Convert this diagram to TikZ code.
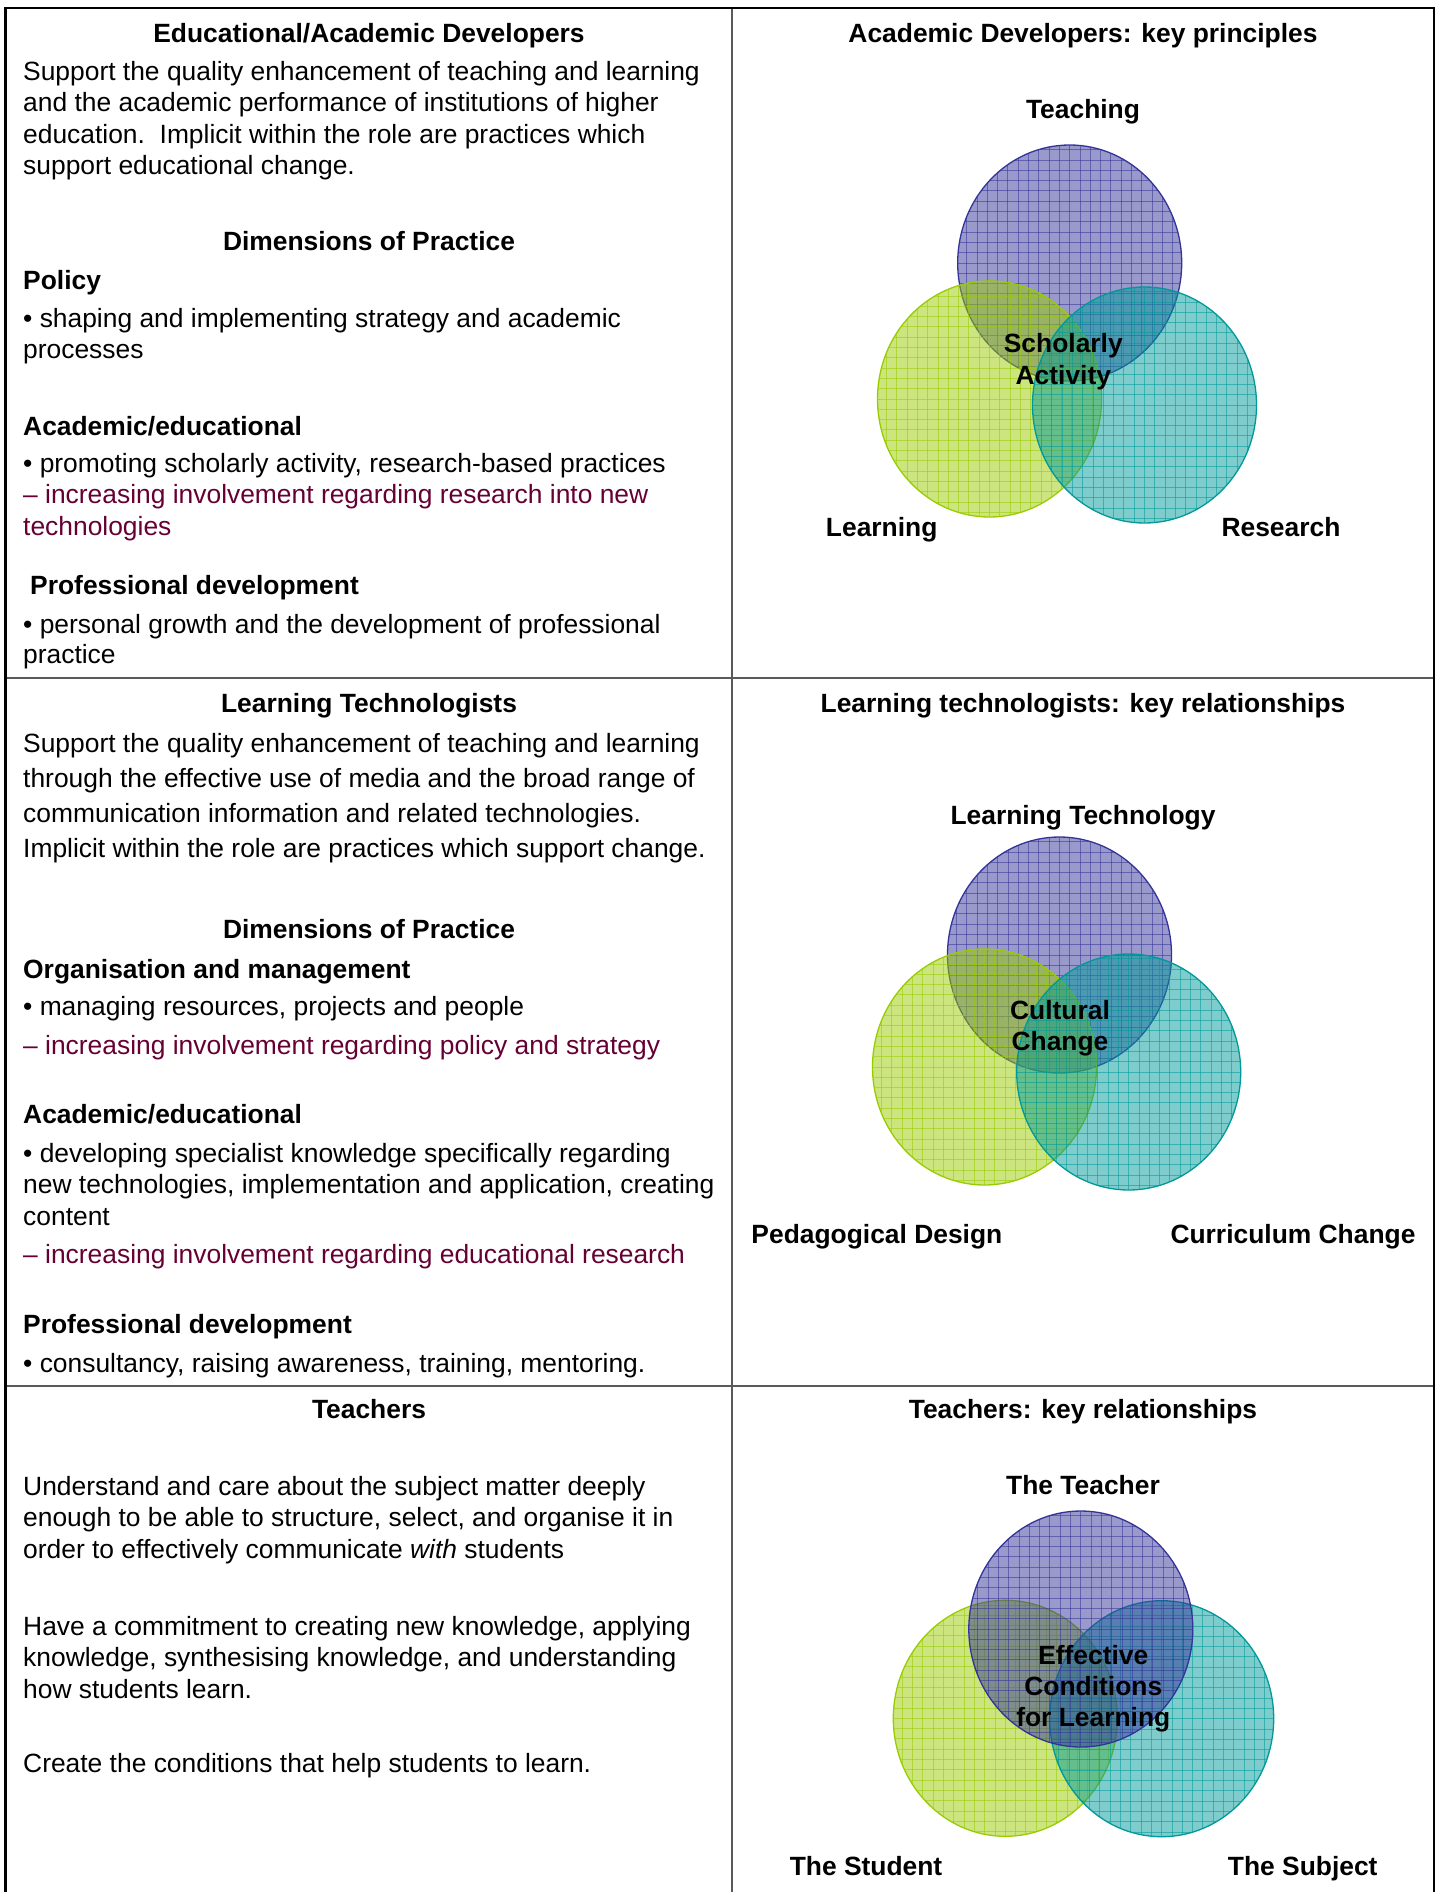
\documentclass[tikz,border=0pt]{standalone}
\usepackage{fontspec}
\setmainfont{Liberation Sans}
\usetikzlibrary{shapes.geometric}

\definecolor{maroonT}{RGB}{102,0,51}
\definecolor{purpleV}{RGB}{51,51,153}
\definecolor{greenV}{RGB}{153,204,0}
\definecolor{tealV}{RGB}{0,153,153}
\definecolor{ruleV}{RGB}{90,90,90}

\newcommand{\txtfont}{\fontsize{26.4}{31}\selectfont}
\newcommand{\hdfont}{\fontsize{26.4}{31}\selectfont\bfseries}

\tikzset{
  tx/.style={font=\txtfont, anchor=west, inner sep=0pt, text height=18.9pt, text depth=0pt},
  bx/.style={tx, font=\hdfont},
  mx/.style={tx, text=maroonT},
  hd/.style={bx, anchor=center},
  outer/.style={line width=2.2pt, black},
  inner/.style={line width=1.6pt, ruleV},
  venn/.style={ellipse, minimum width=224pt, minimum height=236pt, inner sep=0pt,
    draw=#1, line width=1.3pt, fill=#1, fill opacity=.5,
    path picture={
      \foreach \k in {-12,...,12}{
        \draw[#1, line width=1pt, draw opacity=.55]
          ([xshift=\k*10.3pt]path picture bounding box.north) --
          ([xshift=\k*10.3pt]path picture bounding box.south);
        \draw[#1, line width=1pt, draw opacity=.55]
          ([yshift=\k*10.3pt]path picture bounding box.west) --
          ([yshift=\k*10.3pt]path picture bounding box.east);
      }
    }},
}

\begin{document}
\begin{tikzpicture}[x=1pt, y=-1pt]
\useasboundingbox (0,0) rectangle (1439,1892);

% table frame
\coordinate (tl) at (5.5,8);
\coordinate (tr) at (1434,8);
\coordinate (bl) at (5.5,1892);
\coordinate (br) at (1434,1892);
\coordinate (mt) at (732,8);
\coordinate (mb) at (732,1892);
\coordinate (r1l) at (5.5,678);
\coordinate (r1r) at (1434,678);
\coordinate (r2l) at (5.5,1386);
\coordinate (r2r) at (1434,1386);
\draw[inner] (mt) -- (mb);
\draw[inner] (r1l) -- (r1r);
\draw[inner] (r2l) -- (r2r);
\draw[outer] (bl) -- (tl) -- (tr) -- (br);

% ---- row 1, left
\node[hd] (h1) at (369,32.6) {Educational/Academic Developers};
\node[tx] (a1) at (23,71.2) {Support the quality enhancement of teaching and learning};
\node[tx] (a2) at (23,102.5) {and the academic performance of institutions of higher};
\node[tx] (a3) at (23,133.9) {education.\ \ Implicit within the role are practices which};
\node[tx] (a4) at (23,165.2) {support educational change.};
\node[hd] (d1) at (369,241.2) {Dimensions of Practice};
\node[bx] (p1) at (23,279.8) {Policy};
\node[tx] (p2) at (23,318.4) {• shaping and implementing strategy and academic};
\node[tx] (p3) at (23,348.6) {processes};
\node[bx] (e1) at (23,425.8) {Academic/educational};
\node[tx] (e2) at (23,463.2) {• promoting scholarly activity, research-based practices};
\node[mx] (e3) at (23,494.5) {– increasing involvement regarding research into new};
\node[mx] (e4) at (23,525.9) {technologies};
\node[bx] (f1) at (30,585) {Professional development};
\node[tx] (f2) at (23,623.6) {• personal growth and the development of professional};
\node[tx] (f3) at (23,653.8) {practice};

% ---- row 1, right
\node[hd] (h2) at (1083,32.6) {Academic Developers: key principles};
\node[venn=purpleV] (v1a) at (1069.7,263) {};
\node[venn=greenV] (v1b) at (989.5,399) {};
\node[venn=tealV] (v1c) at (1144.5,405) {};
\node[hd] (l1a) at (1083,108.6) {Teaching};
\node[hd] (l1b) at (881.7,527.1) {Learning};
\node[hd] (l1c) at (1281,527.1) {Research};
\node[hd] (c1a) at (1063.3,343.3) {Scholarly};
\node[hd] (c1b) at (1063.3,375) {Activity};

% ---- row 2, left
\node[hd] (h3) at (369,703.2) {Learning Technologists};
\node[tx] (b1) at (23,743) {Support the quality enhancement of teaching and learning};
\node[tx] (b2) at (23,778) {through the effective use of media and the broad range of};
\node[tx] (b3) at (23,813) {communication information and related technologies.};
\node[tx] (b4) at (23,848) {Implicit within the role are practices which support change.};
\node[hd] (d2) at (369,928.8) {Dimensions of Practice};
\node[bx] (o1) at (23,968.6) {Organisation and management};
\node[tx] (o2) at (23,1006) {• managing resources, projects and people};
\node[mx] (o3) at (23,1044.6) {– increasing involvement regarding policy and strategy};
\node[bx] (g1) at (23,1114.5) {Academic/educational};
\node[tx] (g2) at (23,1153.1) {• developing specialist knowledge specifically regarding};
\node[tx] (g3) at (23,1184.5) {new technologies, implementation and application, creating};
\node[tx] (g4) at (23,1215.9) {content};
\node[mx] (g5) at (23,1254.4) {– increasing involvement regarding educational research};
\node[bx] (k1) at (23,1324.4) {Professional development};
\node[tx] (k2) at (23,1363) {• consultancy, raising awareness, training, mentoring.};

% ---- row 2, right
\node[hd] (h4) at (1083,703.2) {Learning technologists: key relationships};
\node[venn=purpleV] (v2a) at (1059.5,955) {};
\node[venn=greenV] (v2b) at (984.5,1067) {};
\node[venn=tealV] (v2c) at (1128.7,1072) {};
\node[hd] (l2a) at (1083,815) {Learning Technology};
\node[hd] (l2b) at (876.9,1233.9) {Pedagogical Design};
\node[hd] (l2c) at (1293,1233.9) {Curriculum Change};
\node[hd] (c2a) at (1060,1010) {Cultural};
\node[hd] (c2b) at (1060,1040.7) {Change};

% ---- row 3, left
\node[hd] (h5) at (369,1408.8) {Teachers};
\node[tx] (s1) at (23,1486) {Understand and care about the subject matter deeply};
\node[tx] (s2) at (23,1517.4) {enough to be able to structure, select, and organise it in};
\node[tx] (s3) at (23,1548.8) {order to effectively communicate \textit{with} students};
\node[tx] (s4) at (23,1626) {Have a commitment to creating new knowledge, applying};
\node[tx] (s5) at (23,1657.3) {knowledge, synthesising knowledge, and understanding};
\node[tx] (s6) at (23,1688.7) {how students learn.};
\node[tx] (s7) at (23,1763.5) {Create the conditions that help students to learn.};

% ---- row 3, right
\node[hd] (h6) at (1083,1408.8) {Teachers: key relationships};
\node[venn=greenV] (v3b) at (1005.3,1718.3) {};
\node[venn=tealV] (v3c) at (1161.7,1718.7) {};
\node[venn=purpleV] (v3a) at (1080.8,1629) {};
\node[hd] (l3a) at (1083,1484.8) {The Teacher};
\node[hd] (l3b) at (866,1866) {The Student};
\node[hd] (l3c) at (1302.7,1866) {The Subject};
\node[hd] (c3a) at (1093.3,1655) {Effective};
\node[hd] (c3b) at (1093.3,1685.7) {Conditions};
\node[hd] (c3c) at (1093.3,1716.7) {for Learning};
\end{tikzpicture}
\end{document}
